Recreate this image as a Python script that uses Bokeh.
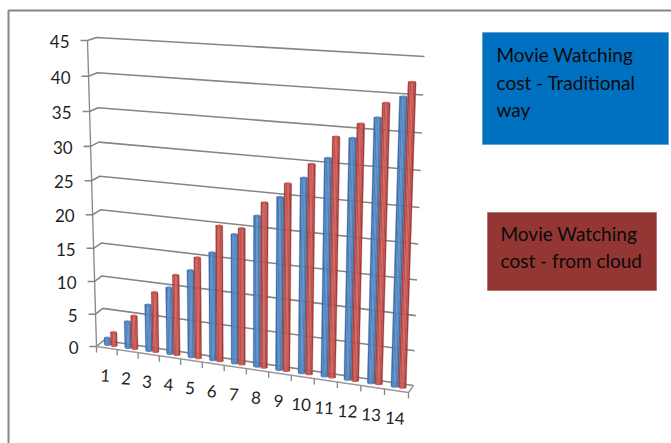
import numpy as np
from bokeh.core.properties import value
from bokeh.embed import file_html
from bokeh.plotting import figure
from bokeh.resources import INLINE

# Chart content
categories = [str(i) for i in range(1, 15)]
traditional = [1, 4, 7, 10, 13, 16, 19, 22, 25, 28, 31, 34, 37, 40]
cloud = [2, 5, 9, 12, 15, 20, 20, 24, 27, 30, 34, 36, 39, 42]
value_ticks = [0, 5, 10, 15, 20, 25, 30, 35, 40, 45]
traditional_lines = ["Movie Watching", "cost - Traditional", "way"]
cloud_lines = ["Movie Watching", "cost - from cloud"]

W, H = 671, 443
FONT = value("Lato")
GRID = "#868686"
VMAX = 45.0


def homography(corners):
    """Map (t, v/VMAX) in the unit square to page pixels for a plane given by its four corners."""
    src = [(0, 0), (1, 0), (0, 1), (1, 1)]
    A, b = [], []
    for (s, r), (x, y) in zip(src, corners):
        A.append([s, r, 1, 0, 0, 0, -s * x, -r * x]); b.append(x)
        A.append([0, 0, 0, s, r, 1, -s * y, -r * y]); b.append(y)
    h = np.linalg.solve(np.array(A, float), np.array(b, float))
    m = np.append(h, 1).reshape(3, 3)

    def project(t, v):
        q = m @ np.array([t, v / VMAX, 1.0])
        return q[0] / q[2], q[1] / q[2]
    return project


# The three depth planes of the 3-D plot box: front edge, bar row, back wall
front = homography([(96, 346), (408, 392), (87, 40), (418, 62)])
middle = homography([(100, 343), (410, 388), (91.5, 38.5), (421, 59)])
back = homography([(103, 340), (413, 385), (96, 37), (424, 56)])

p = figure(width=W, height=H, x_range=(0, W), y_range=(H, 0), toolbar_location=None,
           output_backend="svg", min_border=0, outline_line_color=None)
p.axis.visible = False
p.grid.visible = False

# Surrounding frame
p.line([8, 8, W], [H, 10, 10], line_color=GRID, line_width=2)

# Gridlines with ticks on the value axis
for v in value_ticks:
    fx, fy = front(0, v)
    bx, by = back(0, v)
    rx, ry = back(1, v)
    p.line([fx - 7, fx, bx, rx], [fy, fy, by, ry], line_color=GRID, line_width=1.6)
    p.text([fx - 18], [fy + 1], text=[str(v)], text_font=FONT, text_font_size="17px",
           text_color="#1f1f1f", text_align="right", text_baseline="middle")

# Value axis and the floor edges
x0, y0 = front(0, 0)
x1, y1 = front(0, VMAX)
p.line([x0, x1], [y0, y1], line_color=GRID, line_width=1.3)
p.line([back(0, 0)[0], x0, front(1, 0)[0], back(1, 0)[0]],
       [back(0, 0)[1], y0, front(1, 0)[1], back(1, 0)[1]], line_color="#9a9a9a", line_width=1.5)

# Category ticks and labels along the front edge
n = len(categories)
for i in range(n + 1):
    x, y = front(i / n, 0)
    p.line([x, x], [y, y + 6], line_color=GRID, line_width=1.3)
for i, c in enumerate(categories):
    x, y = front((i + 0.5) / n, 0)
    p.text([x - 1.5], [y + 27], text=[c], text_font=FONT, text_font_size="17px", angle=-0.06,
           text_color="#1f1f1f", text_align="center", text_baseline="middle")

# Cylinder shading across a bar, as strips from left to right
BLUE_STRIPS = ["#3f6fa6", "#4f81bd", "#5a8dca", "#5284c0", "#41709f"]
RED_STRIPS = ["#a8413e", "#c0504d", "#cf605d", "#c4534f", "#a33f3c"]
HALF_WIDTH = 0.16


def draw_bars(values, offset, strips, cap):
    xs, ys, fills = [], [], []
    caps_x, caps_y, caps_w = [], [], []
    for i, val in enumerate(values):
        c = (i + 0.5 + offset) / n
        left = c - HALF_WIDTH / n
        step = (2 * HALF_WIDTH / n) / len(strips)
        for k, col in enumerate(strips):
            a, b = left + k * step, left + (k + 1) * step
            pts = [middle(a, 0), middle(b, 0), middle(b, val), middle(a, val)]
            xs.append([q[0] for q in pts])
            ys.append([q[1] for q in pts])
            fills.append(col)
        tx, ty = middle(c, val)
        bx_, by_ = middle(c, 0)
        w = middle(c + HALF_WIDTH / n, val)[0] - middle(c - HALF_WIDTH / n, val)[0]
        caps_x += [tx, bx_]
        caps_y += [ty, by_]
        caps_w += [w, w]
    p.ellipse(caps_x, caps_y, width=caps_w, height=3, fill_color=cap, line_color=None)
    p.patches(xs, ys, fill_color=fills, line_color=fills, line_width=0.3)


draw_bars(traditional, -0.16, BLUE_STRIPS, "#5f90c9")
draw_bars(cloud, 0.16, RED_STRIPS, "#cf6461")

# Text boxes that serve as the legend
p.quad(left=[482], right=[668], top=[32], bottom=[144], fill_color="#0070C0", line_color="#4a94d0", line_width=0.6)
p.quad(left=[487], right=[656], top=[212], bottom=[290], fill_color="#943634", line_color="#a85a58", line_width=0.6)
for line, y in zip(traditional_lines, [54, 82, 109]):
    p.text([496], [y], text=[line], text_font=FONT, text_font_size="19px", text_color="#0a0a0a",
           text_align="left", text_baseline="middle")
for line, y in zip(cloud_lines, [233, 260]):
    p.text([500], [y], text=[line], text_font=FONT, text_font_size="19px", text_color="#0a0a0a",
           text_align="left", text_baseline="middle")

open("out.html", "w").write(file_html(p, INLINE))
